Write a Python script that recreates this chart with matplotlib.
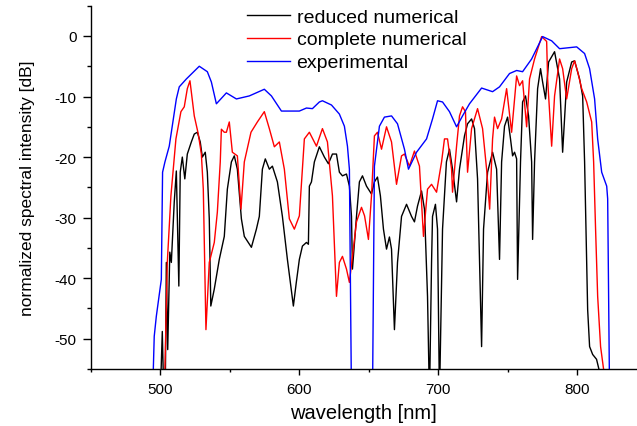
import matplotlib

matplotlib.use("Agg")
import matplotlib.pyplot as plt
from matplotlib.ticker import MultipleLocator

plt.rcParams["font.family"] = ["Liberation Sans", "DejaVu Sans"]
plt.rcParams["axes.unicode_minus"] = False

# reduced numerical model (nm, dB)
reduced_nm = [500.0, 501.5, 502.6, 503.6, 504.4, 505.4, 506.9, 508.0, 510.1, 511.6, 513.4, 514.4,
              515.9, 517.7, 519.5, 522.4, 524.5, 526.7, 528.8, 530.3, 532.4, 533.9, 535.3, 536.4,
              538.9, 542.5, 546.1, 548.3, 551.2, 553.3, 555.5, 558.4, 560.5, 565.6, 569.2, 571.3,
              573.5, 575.6, 578.5, 580.7, 584.3, 587.9, 591.5, 595.8, 597.9, 600.1, 602.3, 605.2,
              606.6, 607.3, 608.8, 610.9, 614.5, 618.1, 621.0, 623.9, 626.8, 628.9, 631.1, 634.0,
              636.1, 637.6, 638.3, 641.2, 643.3, 645.5, 648.4, 652.0, 654.1, 656.3, 658.4, 660.6,
              662.8, 664.9, 666.4, 668.5, 670.7, 673.6, 677.2, 680.8, 682.9, 685.1, 688.0, 690.1,
              692.3, 693.7, 695.2, 695.9, 698.0, 699.5, 700.9, 703.1, 705.9, 708.1, 710.3, 713.2,
              715.3, 718.9, 721.1, 724.0, 726.1, 728.3, 731.2, 732.6, 735.5, 739.1, 742.0, 744.1,
              745.6, 747.7, 749.9, 752.0, 753.5, 754.9, 756.4, 757.1, 759.2, 760.7, 762.8, 765.0,
              767.2, 767.9, 769.3, 771.5, 773.6, 775.1, 777.2, 779.4, 783.7, 787.3, 789.5, 792.4,
              796.0, 798.1, 801.7, 803.9, 805.3, 806.8, 807.5, 808.9, 811.1, 813.9, 816.1, 817.5]
reduced_db = [-60, -48.8, -60, -60, -37.4, -51.8, -35.7, -37.4, -27.4, -22.3, -41.3, -22.5,
              -20.0, -23.6, -19.5, -17.5, -16.2, -15.9, -17.5, -20.0, -19.2, -22.5, -30.2, -44.6,
              -41.8, -36.9, -33.1, -25.3, -20.8, -19.8, -22.0, -30.2, -33.1, -34.9, -31.9, -29.8,
              -22.0, -20.3, -22.0, -21.5, -24.1, -29.8, -36.9, -44.6, -40.7, -36.9, -34.7, -34.1,
              -34.4, -24.8, -24.1, -20.8, -18.3, -20.0, -21.1, -19.5, -19.5, -22.5, -23.1, -22.8,
              -24.8, -29.8, -38.5, -29.8, -24.1, -23.1, -24.8, -26.1, -24.1, -23.3, -26.4, -31.9,
              -35.2, -33.2, -35.2, -48.5, -37.4, -29.8, -27.8, -29.8, -30.7, -28.1, -25.6, -28.6,
              -43.0, -60, -37.4, -29.8, -27.8, -31.9, -60, -31.9, -20.8, -18.7, -22.0, -27.4,
              -22.0, -16.5, -14.5, -13.7, -15.3, -23.6, -51.3, -31.9, -22.5, -19.2, -22.0, -36.9,
              -20.8, -14.9, -13.4, -17.0, -19.8, -19.2, -20.3, -40.2, -20.8, -10.9, -9.9, -13.2,
              -20.8, -33.6, -20.8, -8.7, -5.4, -7.6, -10.4, -4.3, -2.6, -7.1, -19.2, -7.6,
              -4.3, -4.1, -7.1, -9.9, -20.8, -37.4, -45.2, -51.3, -52.6, -53.4, -55.5, -60]

# complete numerical model (nm, dB)
complete_nm = [502.9, 505.1, 507.7, 511.3, 514.9, 517.3, 519.5, 521.4, 524.5, 527.4, 529.6, 531.0,
               532.9, 535.3, 538.9, 541.1, 543.2, 544.0, 546.1, 547.6, 549.7, 551.9, 555.5, 558.1,
               560.5, 565.3, 569.9, 574.9, 578.5, 582.1, 585.7, 589.3, 592.9, 596.5, 600.1, 603.7,
               607.3, 612.4, 616.7, 620.3, 623.9, 626.8, 628.9, 631.1, 634.0, 636.1, 638.3, 641.2,
               644.8, 647.0, 649.8, 652.0, 654.1, 656.3, 659.2, 662.8, 666.4, 670.0, 673.6, 675.7,
               679.3, 682.9, 686.5, 689.4, 692.3, 695.2, 698.8, 702.4, 704.5, 706.7, 709.6, 710.3,
               713.2, 715.3, 717.5, 719.6, 721.1, 724.0, 728.3, 731.9, 734.8, 737.0, 739.1, 740.5,
               742.7, 745.6, 749.2, 752.8, 756.4, 758.5, 760.7, 763.6, 765.7, 769.3, 774.4, 778.0,
               778.7, 781.6, 783.7, 787.3, 789.5, 792.4, 796.0, 798.1, 800.3, 803.2, 806.8, 810.4,
               811.8, 813.2, 814.7, 816.8, 819.0, 820.0]
complete_db = [-60, -37.4, -26.4, -17.0, -12.5, -11.7, -8.7, -7.4, -13.2, -16.2, -19.5, -25.3,
               -48.5, -37.4, -34.1, -29.1, -20.8, -15.4, -15.9, -15.9, -14.2, -19.2, -19.8, -28.6,
               -20.8, -15.9, -14.2, -12.5, -15.3, -18.3, -17.5, -22.0, -30.2, -31.9, -29.7, -17.0,
               -15.9, -18.2, -15.3, -17.5, -26.4, -43.0, -37.4, -36.4, -38.5, -40.7, -36.4, -30.7,
               -28.3, -29.7, -33.6, -26.4, -16.5, -15.9, -18.7, -15.0, -17.5, -24.5, -19.8, -19.5,
               -21.5, -19.0, -21.5, -33.1, -25.3, -24.5, -25.8, -20.8, -17.0, -17.0, -22.0, -25.8,
               -18.2, -13.2, -11.7, -12.5, -22.5, -15.3, -12.0, -15.3, -22.0, -28.6, -17.0, -13.4,
               -15.3, -13.7, -8.7, -15.9, -6.6, -8.2, -7.4, -15.0, -7.1, -3.8, -0.1, -0.9,
               -7.1, -18.2, -9.9, -3.8, -5.4, -10.4, -5.4, -4.1, -5.9, -8.7, -10.9, -14.2,
               -20.8, -31.9, -43.0, -51.3, -55.1, -60]

# experimental spectrum (nm, dB)
experimental_nm = [494.8, 495.7, 497.2, 500.8, 501.7, 503.4, 506.5, 511.6, 513.7, 518.8, 528.1, 533.9,
                   536.8, 540.4, 547.6, 554.8, 564.1, 574.9, 580.0, 587.2, 600.1, 605.2, 609.5, 614.5,
                   616.7, 623.2, 628.9, 632.5, 634.7, 636.1, 637.6, 652.7, 654.1, 657.7, 661.3, 666.4,
                   670.7, 675.7, 678.6, 684.4, 691.6, 695.9, 699.5, 703.1, 708.1, 713.2, 717.5, 722.5,
                   731.2, 739.1, 744.1, 751.3, 756.4, 760.7, 767.2, 775.1, 781.6, 787.3, 799.6, 805.3,
                   808.9, 812.5, 814.7, 817.6, 821.2, 821.9, 823.3]
experimental_db = [-57, -49.6, -46.3, -40.2, -22.5, -20.8, -18.2, -10.4, -8.4, -7.1, -5.0, -5.9,
                   -7.6, -11.2, -9.4, -10.4, -9.9, -8.8, -9.9, -12.4, -12.4, -11.9, -12.0, -10.9,
                   -10.7, -11.4, -12.9, -14.9, -18.2, -22.0, -60, -60, -21.5, -14.9, -13.4, -13.2,
                   -14.5, -18.7, -22.0, -19.2, -17.0, -13.7, -10.7, -10.9, -12.5, -15.0, -13.2, -11.2,
                   -8.6, -9.2, -8.4, -6.2, -5.7, -5.9, -3.8, -0.1, -0.8, -2.1, -1.8, -2.9,
                   -5.4, -10.4, -17.0, -22.5, -24.8, -26.9, -60]

fig = plt.figure(figsize=(6.37, 4.27), dpi=100)
ax = fig.add_axes([0.1424, 0.1335, 0.8576, 0.8508])

ax.plot(reduced_nm, reduced_db, color="black", lw=1.0, label="reduced numerical")
ax.plot(complete_nm, complete_db, color="#ff0000", lw=1.0, label="complete numerical")
ax.plot(experimental_nm, experimental_db, color="#0000ff", lw=1.0, label="experimental")

ax.set_xlim(450, 843)
ax.set_ylim(-55, 5)
ax.xaxis.set_major_locator(MultipleLocator(100))
ax.xaxis.set_minor_locator(MultipleLocator(50))
ax.yaxis.set_major_locator(MultipleLocator(10))
ax.yaxis.set_minor_locator(MultipleLocator(5))

for side in ("top", "right"):
    ax.spines[side].set_visible(False)
for side in ("left", "bottom"):
    ax.spines[side].set_linewidth(1.0)

ax.tick_params(axis="both", which="both", direction="out", width=1.0, labelsize=11)
ax.tick_params(axis="y", which="major", length=6, pad=4)
ax.tick_params(axis="y", which="minor", length=3)
ax.tick_params(axis="x", which="major", length=4.5, pad=5)
ax.tick_params(axis="x", which="minor", length=2.5)

ax.set_xlabel("wavelength [nm]", fontsize=14.5, labelpad=5)
ax.set_ylabel("normalized spectral intensity [dB]", fontsize=12.5, labelpad=14)

fig.legend(loc="upper left", bbox_to_anchor=(247 / 637, 1 - 9 / 427), frameon=False,
           fontsize=14, handlelength=2.2, handletextpad=0.35, labelspacing=0.27,
           borderpad=0, borderaxespad=0)

fig.savefig("out.png", dpi=100)
